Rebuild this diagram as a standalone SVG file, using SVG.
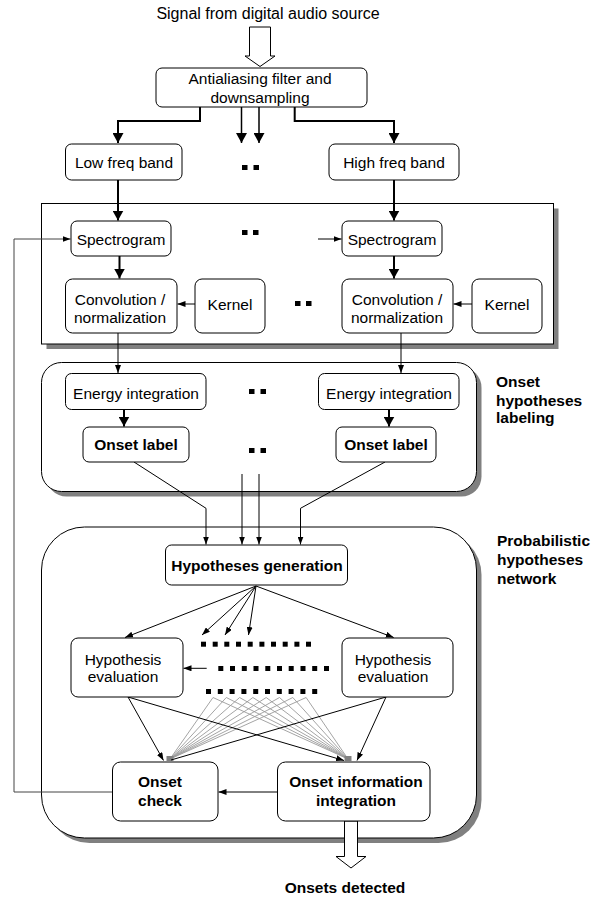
<svg xmlns="http://www.w3.org/2000/svg" width="604" height="901" viewBox="0 0 604 901">
<style>
  .box{fill:#fff;stroke:#000;stroke-width:1}
  .shadow{fill:#808080;stroke:none}
  .t{font-family:"Liberation Sans",Arial,sans-serif;font-size:15.5px;fill:#000;text-anchor:middle}
  .b{font-weight:bold}
  .l{text-anchor:start}
  .thick{fill:none;stroke:#000;stroke-width:2}
  .thin{fill:none;stroke:#000;stroke-width:1}
  .gray{fill:none;stroke:#9a9a9a;stroke-width:0.9}
  .hollow{fill:#fff;stroke:#000;stroke-width:1}
  .dot{fill:#000}
</style>
<defs>
  <marker id="ah" viewBox="0 0 10 11" markerWidth="10" markerHeight="11" refX="10" refY="5.5" orient="auto" markerUnits="userSpaceOnUse">
    <path d="M0,0 L10,5.5 L0,11 z" fill="#000"/>
  </marker>
  <marker id="as" viewBox="0 0 8 6" markerWidth="8" markerHeight="6" refX="8" refY="3" orient="auto" markerUnits="userSpaceOnUse">
    <path d="M0,0 L8,3 L0,6 z" fill="#000"/>
  </marker>
</defs>
<rect width="604" height="901" fill="#fff"/>

<g id="containers">
  <g id="spectral-stage">
    <rect class="shadow" x="46.5" y="208.5" width="512" height="140.5"/>
    <rect class="box" x="41.5" y="203.5" width="512" height="140.5"/>
  </g>
  <g id="onset-labeling-stage">
    <rect class="shadow" x="46.5" y="367.5" width="435" height="129" rx="20"/>
    <rect class="box" x="41.5" y="362.5" width="435" height="129" rx="20"/>
  </g>
  <g id="probabilistic-stage">
    <rect class="shadow" x="46.5" y="532" width="435" height="311" rx="43"/>
    <rect class="box" x="41.5" y="527" width="435" height="311" rx="43"/>
  </g>
</g>

<g id="labels">
  <text class="t" x="268" y="18.5" style="font-size:16px">Signal from digital audio source</text>
  <text class="t b l" x="496" y="387">Onset</text>
  <text class="t b l" x="496" y="405.5">hypotheses</text>
  <text class="t b l" x="496" y="423">labeling</text>
  <text class="t b l" x="497" y="545.5">Probabilistic</text>
  <text class="t b l" x="497" y="564.5">hypotheses</text>
  <text class="t b l" x="497" y="583.5">network</text>
  <text class="t b" x="345" y="893">Onsets detected</text>
</g>

<g id="connectors">
  <polygon class="hollow" points="249.5,27 270.5,27 270.5,56 275,56 260,66.5 245,56 249.5,56"/>
  <path class="thick" d="M200,107 V121 H118 V143" marker-end="url(#ah)"/>
  <path class="thick" d="M294.7,107 V121 H394 V143" marker-end="url(#ah)"/>
  <path class="thick" style="stroke-width:1.5" d="M241.5,107 V143" marker-end="url(#ah)"/>
  <path class="thick" style="stroke-width:1.5" d="M259,107 V143" marker-end="url(#ah)"/>
  <path class="thick" d="M118,180 V220.5" marker-end="url(#ah)"/>
  <path class="thick" d="M394,180 V220.5" marker-end="url(#ah)"/>
  <path class="thick" d="M119.5,256 V278.5" marker-end="url(#ah)"/>
  <path class="thick" d="M394,256 V278.5" marker-end="url(#ah)"/>
  <path class="thin" d="M318,239 H341.5" marker-end="url(#as)"/>
  <path class="thin" style="stroke:#444" d="M112.5,792 H14 V239 H70.5" marker-end="url(#as)"/>
  <path class="thin" d="M195,304 H177.5" marker-end="url(#as)"/>
  <path class="thin" d="M472,304 H453.5" marker-end="url(#as)"/>
  <path class="thin" d="M118,333 V373" marker-end="url(#as)"/>
  <path class="thin" d="M401,333 V373" marker-end="url(#as)"/>
  <path class="thick" d="M124,409.5 V426.5" marker-end="url(#ah)"/>
  <path class="thick" d="M389,409.5 V426.5" marker-end="url(#ah)"/>
  <path class="thin" d="M134,462 L206,508.3 V544.5" marker-end="url(#as)"/>
  <path class="thin" d="M385,462 L300.5,508.3 V544.5" marker-end="url(#as)"/>
  <path class="thin" d="M242,474 V544.5" marker-end="url(#as)"/>
  <path class="thin" d="M259,474 V544.5" marker-end="url(#as)"/>
  <path class="thin" d="M256,586 L125,637.5" marker-end="url(#as)"/>
  <path class="thin" d="M256,586 L202,635" marker-end="url(#as)"/>
  <path class="thin" d="M256,586 L225,635" marker-end="url(#as)"/>
  <path class="thin" d="M256,586 L248.5,635" marker-end="url(#as)"/>
  <path class="thin" d="M256,586 L393.7,637.5" marker-end="url(#as)"/>
  <path class="thin" d="M206.7,668.3 H183.5" marker-end="url(#as)"/>
  <g id="fan">
    <path class="gray" d="M170,759 L213,697.5 L348,759 M170,759 L226.3,697.5 L348,759 M170,759 L239.6,697.5 L348,759 M170,759 L252.9,697.5 L348,759 M170,759 L266.2,697.5 L348,759 M170,759 L279.5,697.5 L348,759 M170,759 L292.8,697.5 L348,759 M170,759 L306.1,697.5 L348,759"/>
    <rect x="166.5" y="756" width="7" height="5" fill="#808080"/>
    <rect x="344.5" y="756" width="7" height="5" fill="#808080"/>
  </g>
  <path class="thin" d="M128,697 L163.5,760.5" marker-end="url(#as)"/>
  <path class="thin" d="M128,697 L344,760.5" marker-end="url(#as)"/>
  <path class="thin" d="M386,697 L357,760.5" marker-end="url(#as)"/>
  <path class="thin" d="M386,697 L171,760"/>
  <path class="thin" d="M277.5,792 H218.5" marker-end="url(#as)"/>
  <polygon class="hollow" points="344.5,821 357.5,821 357.5,856.5 366,856.5 351,868 336,856.5 344.5,856.5"/>
</g>

<g id="ellipses">
  <rect class="dot" x="242" y="165" width="5.5" height="5"/><rect class="dot" x="253.5" y="165" width="5.5" height="5"/>
  <rect class="dot" x="242" y="230" width="5.5" height="5"/><rect class="dot" x="253" y="230" width="5.5" height="5"/>
  <rect class="dot" x="295" y="301" width="5.5" height="5"/><rect class="dot" x="306" y="301" width="5.5" height="5"/>
  <rect class="dot" x="249" y="389" width="5.5" height="5"/><rect class="dot" x="260.5" y="389" width="5.5" height="5"/>
  <rect class="dot" x="249" y="448" width="5.5" height="5"/><rect class="dot" x="260.5" y="448" width="5.5" height="5"/>
  <g id="dots-row1">
    <rect class="dot" x="201" y="641.7" width="5" height="5"/><rect class="dot" x="212.7" y="641.7" width="5" height="5"/><rect class="dot" x="224.3" y="641.7" width="5" height="5"/><rect class="dot" x="236" y="641.7" width="5" height="5"/><rect class="dot" x="247.7" y="641.7" width="5" height="5"/><rect class="dot" x="259.4" y="641.7" width="5" height="5"/><rect class="dot" x="271" y="641.7" width="5" height="5"/><rect class="dot" x="282.7" y="641.7" width="5" height="5"/><rect class="dot" x="294.4" y="641.7" width="5" height="5"/><rect class="dot" x="306" y="641.7" width="5" height="5"/>
  </g>
  <g id="dots-row2">
    <rect class="dot" x="218.3" y="666" width="5" height="5"/><rect class="dot" x="230" y="666" width="5" height="5"/><rect class="dot" x="241.8" y="666" width="5" height="5"/><rect class="dot" x="253.5" y="666" width="5" height="5"/><rect class="dot" x="265.3" y="666" width="5" height="5"/><rect class="dot" x="277" y="666" width="5" height="5"/><rect class="dot" x="288.7" y="666" width="5" height="5"/><rect class="dot" x="300.5" y="666" width="5" height="5"/><rect class="dot" x="312.2" y="666" width="5" height="5"/><rect class="dot" x="324" y="666" width="5" height="5"/>
  </g>
  <g id="dots-row3">
    <rect class="dot" x="206" y="689" width="5" height="5"/><rect class="dot" x="217.8" y="689" width="5" height="5"/><rect class="dot" x="229.6" y="689" width="5" height="5"/><rect class="dot" x="241.4" y="689" width="5" height="5"/><rect class="dot" x="253.2" y="689" width="5" height="5"/><rect class="dot" x="265" y="689" width="5" height="5"/><rect class="dot" x="276.8" y="689" width="5" height="5"/><rect class="dot" x="288.6" y="689" width="5" height="5"/><rect class="dot" x="300.4" y="689" width="5" height="5"/><rect class="dot" x="312.2" y="689" width="5" height="5"/>
  </g>
</g>

<g id="node-antialiasing">
  <rect class="box" x="156" y="68" width="211" height="39" rx="6"/>
  <text class="t" x="260" y="83.5">Antialiasing filter and</text>
  <text class="t" x="260" y="102.5">downsampling</text>
</g>
<g id="node-low-band">
  <rect class="box" x="65.5" y="144" width="116.5" height="36" rx="6"/>
  <text class="t" x="124" y="167.5">Low freq band</text>
</g>
<g id="node-high-band">
  <rect class="box" x="329" y="144" width="130" height="36" rx="6"/>
  <text class="t" x="394" y="167.5">High freq band</text>
</g>
<g id="node-spectrogram-l">
  <rect class="box" x="71" y="221" width="100" height="35" rx="6"/>
  <text class="t" x="121" y="245">Spectrogram</text>
</g>
<g id="node-spectrogram-r">
  <rect class="box" x="342" y="221" width="100" height="35" rx="6"/>
  <text class="t" x="392" y="245">Spectrogram</text>
</g>
<g id="node-conv-l">
  <rect class="box" x="65.5" y="279" width="111.5" height="54" rx="7"/>
  <text class="t" x="120" y="304.5">Convolution /</text>
  <text class="t" x="120" y="323">normalization</text>
</g>
<g id="node-kernel-l">
  <rect class="box" x="195" y="279" width="70" height="54" rx="7"/>
  <text class="t" x="230" y="309.5">Kernel</text>
</g>
<g id="node-conv-r">
  <rect class="box" x="342" y="279" width="111" height="54" rx="7"/>
  <text class="t" x="397" y="304.5">Convolution /</text>
  <text class="t" x="397" y="323">normalization</text>
</g>
<g id="node-kernel-r">
  <rect class="box" x="472" y="279" width="70" height="54" rx="7"/>
  <text class="t" x="507" y="309.5">Kernel</text>
</g>
<g id="node-energy-l">
  <rect class="box" x="65.5" y="373.5" width="140.5" height="36" rx="6"/>
  <text class="t" x="136" y="398.5">Energy integration</text>
</g>
<g id="node-energy-r">
  <rect class="box" x="318.5" y="373.5" width="140.5" height="36" rx="6"/>
  <text class="t" x="389" y="398.5">Energy integration</text>
</g>
<g id="node-onset-label-l">
  <rect class="box" x="83" y="427" width="106" height="35" rx="6"/>
  <text class="t b" x="136" y="449.5">Onset label</text>
</g>
<g id="node-onset-label-r">
  <rect class="box" x="336" y="427" width="100" height="35" rx="6"/>
  <text class="t b" x="386" y="449.5">Onset label</text>
</g>
<g id="node-hyp-gen">
  <rect class="box" x="165.5" y="545" width="182" height="40" rx="6"/>
  <text class="t b" x="257" y="570.5">Hypotheses generation</text>
</g>
<g id="node-hyp-eval-l">
  <rect class="box" x="71" y="638" width="112" height="59" rx="7"/>
  <text class="t" x="123" y="664.5">Hypothesis</text>
  <text class="t" x="123" y="682">evaluation</text>
</g>
<g id="node-hyp-eval-r">
  <rect class="box" x="342" y="638" width="111" height="59" rx="7"/>
  <text class="t" x="393" y="664.5">Hypothesis</text>
  <text class="t" x="393" y="682">evaluation</text>
</g>
<g id="node-onset-check">
  <rect class="box" x="112.5" y="762" width="105.5" height="59" rx="8"/>
  <text class="t b" x="160" y="787">Onset</text>
  <text class="t b" x="160" y="805.5">check</text>
</g>
<g id="node-onset-info">
  <rect class="box" x="277.5" y="762" width="152.5" height="59" rx="8"/>
  <text class="t b" x="356" y="787">Onset information</text>
  <text class="t b" x="356" y="805.5">integration</text>
</g>
</svg>
